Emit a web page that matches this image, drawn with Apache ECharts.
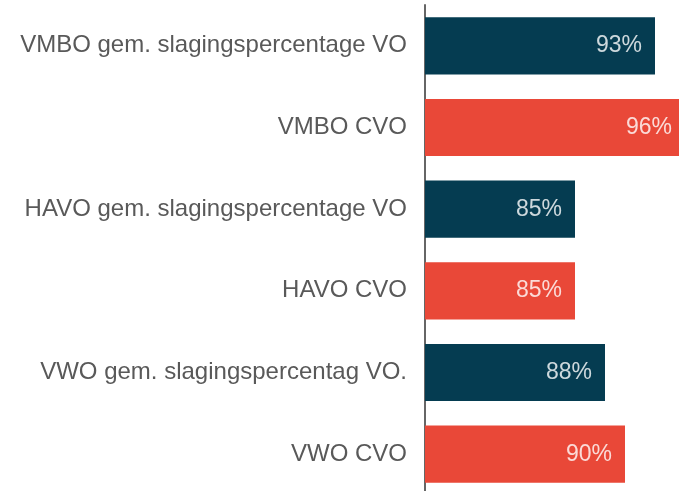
<!DOCTYPE html>
<html>
<head>
<meta charset="utf-8">
<script src="https://cdn.jsdelivr.net/npm/echarts@6/dist/echarts.min.js"></script>
<style>
  html, body { margin: 0; padding: 0; background: #fff; overflow: hidden; }
  #chart { width: 679px; height: 495px; }
</style>
</head>
<body>
<div id="chart"></div>
<script>
// categories top to bottom
var categories = [
    'VMBO gem. slagingspercentage VO',
    'VMBO CVO',
    'HAVO gem. slagingspercentage VO',
    'HAVO CVO',
    'VWO gem. slagingspercentag VO.',
    'VWO CVO'
];
var values = [93, 96, 85, 85, 88, 90];
var barColors = ['#053c51', '#e94838', '#053c51', '#e94838', '#053c51', '#e94838'];

var myChart = echarts.init(document.getElementById('chart'));

var data = [];
for (var i = 0; i < values.length; i++) {
    data.push({
        value: values[i],
        itemStyle: { color: barColors[i] }
    });
}

option = {
    animation: false,
    grid: {
        left: 425,
        right: 0,
        top: 5,
        bottom: 0,
        containLabel: false
    },
    xAxis: {
        type: 'value',
        min: 70,
        max: 95.4,
        startValue: 70,
        show: false
    },
    yAxis: {
        type: 'category',
        inverse: true,
        data: categories,
        axisLine: { lineStyle: { color: '#666666', width: 2 } },
        axisTick: { show: false },
        axisLabel: {
            margin: 18,
            color: '#595959',
            fontSize: 24,
            fontFamily: 'Liberation Sans, Arial, sans-serif'
        }
    },
    series: [
        {
            type: 'bar',
            data: data,
            barCategoryGap: '30%',
            clip: false,
            label: {
                show: true,
                position: 'insideRight',
                distance: 13,
                formatter: '{c}%',
                color: 'rgba(255,255,255,0.8)',
                fontSize: 23,
                fontFamily: 'Liberation Sans, Arial, sans-serif'
            }
        }
    ]
};
myChart.setOption(option);
</script>
</body>
</html>
